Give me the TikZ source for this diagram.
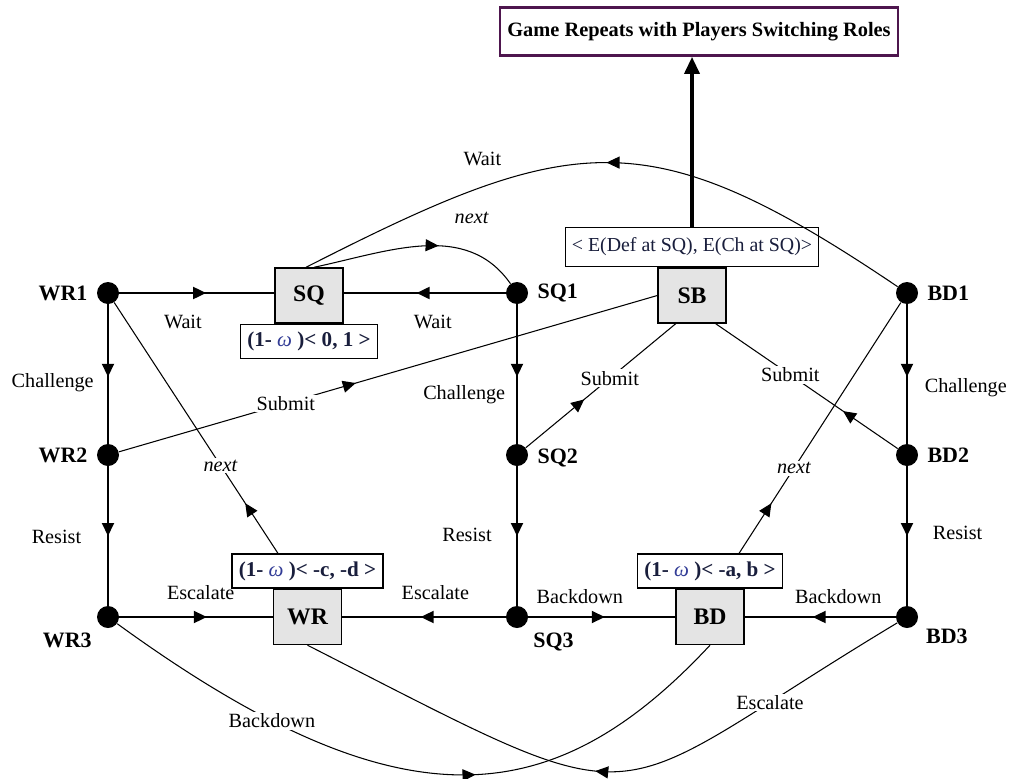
\documentclass[tikz,border=0pt]{standalone}
\usepackage{fontspec}
\setmainfont{Liberation Serif}
\usetikzlibrary{positioning,arrows.meta,decorations.markings}
\definecolor{rolepurple}{RGB}{78,22,78}
\definecolor{boxgray}{RGB}{228,228,228}
\definecolor{payink}{RGB}{25,30,60}
\definecolor{omegaink}{RGB}{50,60,150}
\tikzstyle{state} = [circle, fill=black, minimum size=0.44cm, inner sep=0pt]
\tikzstyle{outcome} = [rectangle, minimum width=1.36cm, minimum height=1.1cm, text centered, draw=black, line width=0.8pt, fill=boxgray, font=\fontsize{13.5}{15}\selectfont\bfseries]
\tikzstyle{payoff} = [rectangle, minimum height=0.68cm, inner xsep=4pt, text centered, draw=black, line width=0.8pt, fill=white, text=payink, font=\fontsize{12}{14}\selectfont\bfseries]
\tikzstyle{goal} = [rectangle, minimum width=7.96cm, minimum height=0.96cm, text centered, draw=rolepurple, line width=1.4pt, font=\fontsize{11.6}{13}\selectfont\bfseries]
\tikzstyle{move} = [line width=1.1pt]
\tikzstyle{jump} = [line width=0.6pt]
\tikzstyle{cut} = [fill=white, inner sep=1pt]
\tikzstyle{arrow} = [line width=2pt,-{Triangle[length=3.4mm,width=3mm]}]
\tikzset{midarrow/.style={postaction={decorate}, decoration={markings, mark=at position #1 with {\arrow{Triangle[length=2.6mm,width=2.4mm]}}}}}
\newcommand{\omg}{{\mdseries\itshape\color{omegaink}ω}}

\begin{document}
\begin{tikzpicture}[node distance=3.24cm, font=\fontsize{11.5}{13}\selectfont,
  every label/.style={font=\fontsize{12.5}{14}\selectfont\bfseries}, label distance=0.06cm]
\useasboundingbox (0,0) rectangle (20.3,-15.56);

\node (wr1) [state, label=left:WR1] at (2.16,-5.86) {};
\node (wr2) [state, below of=wr1, label=left:WR2] {};
\node (wr3) [state, below of=wr2, label=below left:WR3] {};
\node (sq1) [state, right of=wr1, xshift=4.94cm, label=right:SQ1] {};
\node (sq2) [state, below of=sq1, label={[yshift=-0.06cm]right:SQ2}] {};
\node (sq3) [state, below of=sq2, label=below right:SQ3] {};
\node (bd1) [state, right of=sq1, xshift=4.56cm, label=right:BD1] {};
\node (bd2) [state, below of=bd1, label=right:BD2] {};
\node (bd3) [state, below of=bd2, label=-25:BD3] {};

\node (sq) [outcome, right of=wr1, xshift=0.78cm, yshift=-0.05cm] {SQ};
\node (sqpay) [payoff, below=0pt of sq] {(1- \omg\ )< 0, 1 >};
\node (sb) [outcome, right of=sq1, xshift=0.26cm, yshift=-0.05cm] {SB};
\node (sbpay) [payoff, above=0pt of sb, minimum height=0.78cm, inner xsep=3.5pt, font=\fontsize{11.3}{13}\selectfont] {< E(Def at SQ), E(Ch at SQ)>};
\node (game) [goal, above=3.4cm of sbpay, xshift=0.14cm] {Game Repeats with Players Switching Roles};
\node (wr) [outcome, right of=wr3, xshift=0.75cm] {WR};
\node (wrpay) [payoff, above=0pt of wr] {(1- \omg\ )< -c, -d >};
\node (bd) [outcome, right of=sq3, xshift=0.62cm] {BD};
\node (bdpay) [payoff, above=0pt of bd] {(1- \omg\ )< -a, b >};

\draw [move, midarrow=0.56] (wr1) -- node[below=0.3cm, pos=0.41] {Wait} (wr1 -| sq.west);
\draw [move, midarrow=0.55] (sq1) -- node[below=0.3cm, pos=0.45] {Wait} (sq1 -| sq.east);
\draw [move, midarrow=0.52] (wr1) -- node[left=0.15cm, pos=0.56] {Challenge} (wr2);
\draw [move, midarrow=0.5] (wr2) -- node[left=0.4cm, pos=0.51] {Resist} (wr3);
\draw [move, midarrow=0.52] (sq1) -- node[left=0.1cm, pos=0.65] {Challenge} (sq2);
\draw [move, midarrow=0.5] (sq2) -- node[left=0.37cm, pos=0.49] {Resist} (sq3);
\draw [move, midarrow=0.52] (bd1) -- node[right=0.22cm, pos=0.6] {Challenge} (bd2);
\draw [move, midarrow=0.5] (bd2) -- node[right=0.38cm, pos=0.48] {Resist} (bd3);
\draw [move, midarrow=0.57] (wr3) -- node[above=0.2cm, pos=0.53] {Escalate} (wr);
\draw [move, midarrow=0.52] (sq3) -- node[above=0.2cm, pos=0.43] {Escalate} (wr);
\draw [move, midarrow=0.52] (sq3) -- node[above=0.12cm, pos=0.35] {Backdown} (bd);
\draw [move, midarrow=0.55] (bd3) -- node[above=0.12cm, pos=0.38] {Backdown} (bd);

\draw [jump, midarrow=0.44] (wr2) -- node[cut, pos=0.31] {Submit} (sb.west);
\draw [jump, midarrow=0.39] (sq2) -- node[cut, pos=0.56] {Submit} (sb.240);
\draw [jump, midarrow=0.3] (bd2) -- node[cut, pos=0.59] {Submit} (sb.-50);
\draw [jump, midarrow=0.2] ([xshift=-0.59cm]wrpay.north) -- node[cut, pos=0.35] {\textit{next}} (wr1);
\draw [jump, midarrow=0.2] ([xshift=0.58cm]bdpay.north) -- node[cut, pos=0.34] {\textit{next}} (bd1);
\draw [jump, midarrow=0.6] (sq.80) to[out=12, in=125] node[pos=0.75, above=0.45cm] {\textit{next}} (sq1);
\draw [jump, midarrow=0.5] (bd1) to[out=146, in=27, looseness=1.3] node[pos=0.74, above=0.3cm] {Wait} (sq.96);
\draw [jump, midarrow=0.59] (wr3) .. controls +(-36:7.2) and +(227:4.64) .. node[cut, pos=0.2] {Backdown} (bd.south);
\draw [jump, midarrow=0.52] (bd3) .. controls +(211:7.38) and +(-27:8.02) .. node[cut, pos=0.17] {Escalate} (wr.south);

\draw [arrow] (sbpay) -- (sbpay |- game.south);
\end{tikzpicture}
\end{document}
